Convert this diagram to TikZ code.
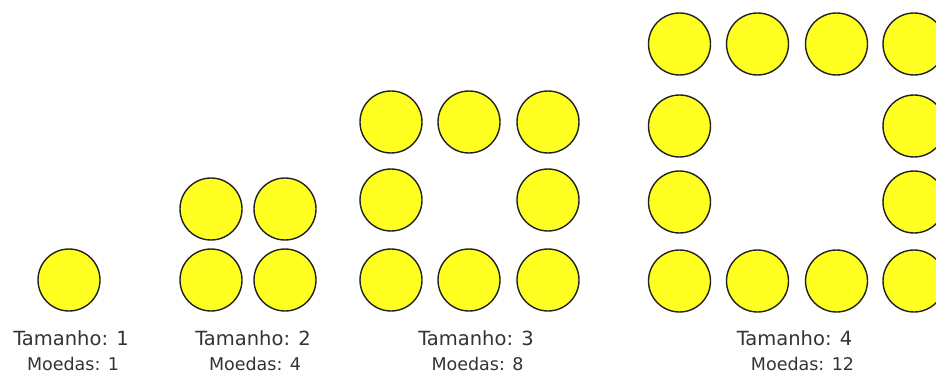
\documentclass[tikz,border=0pt]{standalone}
\usepackage{fontspec}
\setmainfont{DejaVu Sans}
\definecolor{coinfill}{HTML}{FFFF22}
\definecolor{coinline}{HTML}{222222}
\definecolor{txt}{HTML}{333333}
\tikzset{
  coin/.style={circle, draw=coinline, fill=coinfill, line width=1.4pt, minimum size=62pt, inner sep=0pt},
  sizelabel/.style={text=txt, font=\fontsize{19.5}{22}\selectfont, inner sep=0pt},
  countlabel/.style={text=txt, font=\fontsize{17.5}{20}\selectfont, inner sep=0pt}
}
\begin{document}
\begin{tikzpicture}[x=1pt,y=-1pt]
\useasboundingbox (0,0) rectangle (936,374);
\begin{scope}
\clip (0,0) rectangle (936,374);
% group 1
\node[coin] (a11) at (69,280) {};
% group 2
\node[coin] (b11) at (211,209) {};
\node[coin] (b12) at (285,209) {};
\node[coin] (b21) at (211,280) {};
\node[coin] (b22) at (285,280) {};
% group 3
\node[coin] (c11) at (391,122) {};
\node[coin] (c12) at (469,122) {};
\node[coin] (c13) at (548,122) {};
\node[coin] (c21) at (391,200) {};
\node[coin] (c23) at (548,200) {};
\node[coin] (c31) at (391,280) {};
\node[coin] (c32) at (469,280) {};
\node[coin] (c33) at (548,280) {};
% group 4
\node[coin] (d11) at (679.5,44) {};
\node[coin] (d12) at (757.5,44) {};
\node[coin] (d13) at (836.5,44) {};
\node[coin] (d14) at (914,44) {};
\node[coin] (d21) at (679.5,126) {};
\node[coin] (d24) at (914,126) {};
\node[coin] (d31) at (679.5,202) {};
\node[coin] (d34) at (914,202) {};
\node[coin] (d41) at (679.5,281) {};
\node[coin] (d42) at (757.5,281) {};
\node[coin] (d43) at (836.5,281) {};
\node[coin] (d44) at (914,281) {};
\end{scope}
% labels
\node[sizelabel] (t1) at (71,338) {Tamanho: 1};
\node[countlabel] (m1) at (73,364) {Moedas: 1};
\node[sizelabel] (t2) at (253,338) {Tamanho: 2};
\node[countlabel] (m2) at (255,364) {Moedas: 4};
\node[sizelabel] (t3) at (476,338) {Tamanho: 3};
\node[countlabel] (m3) at (477.5,364) {Moedas: 8};
\node[sizelabel] (t4) at (794.5,338) {Tamanho: 4};
\node[countlabel] (m4) at (802.5,364) {Moedas: 12};
\end{tikzpicture}
\end{document}
